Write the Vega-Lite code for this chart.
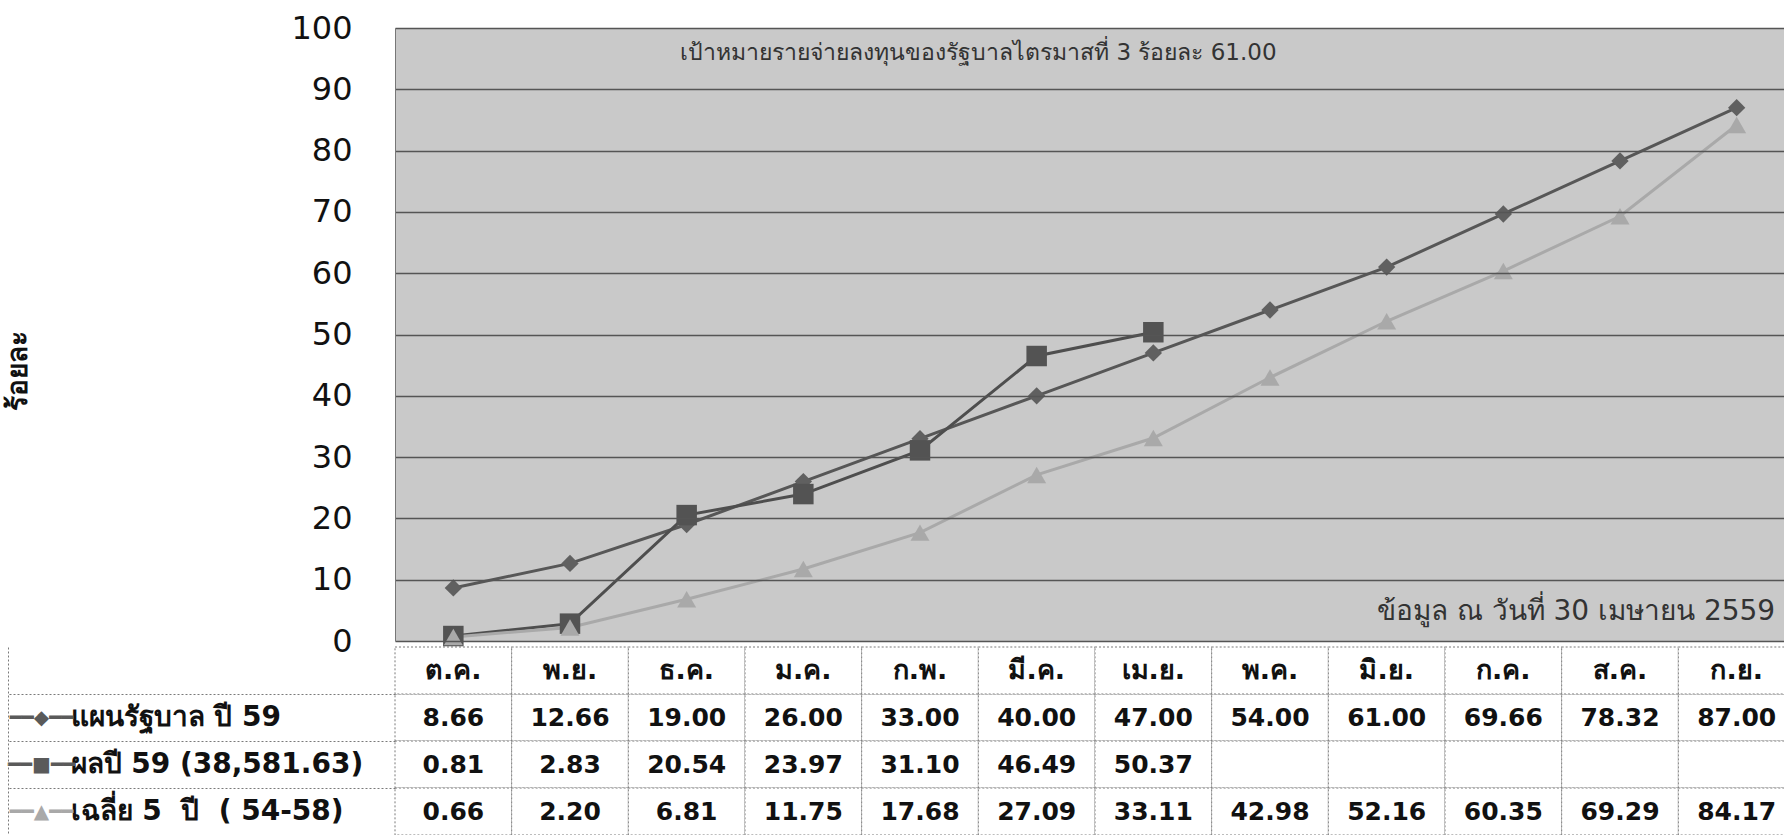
{
  "$schema": "https://vega.github.io/schema/vega-lite/v6.json",
  "width": 1389,
  "height": 807,
  "autosize": {"type": "none"},
  "padding": {"left": 395, "top": 28, "right": 0, "bottom": 0},
  "background": "white",
  "config": {"view": {"stroke": null}, "font": "DejaVu Sans"},
  "data": {"values": [
    {"m": "ต.ค.", "s": "แผนรัฐบาล ปี 59", "v": 8.66},
    {"m": "พ.ย.", "s": "แผนรัฐบาล ปี 59", "v": 12.66},
    {"m": "ธ.ค.", "s": "แผนรัฐบาล ปี 59", "v": 19.00},
    {"m": "ม.ค.", "s": "แผนรัฐบาล ปี 59", "v": 26.00},
    {"m": "ก.พ.", "s": "แผนรัฐบาล ปี 59", "v": 33.00},
    {"m": "มี.ค.", "s": "แผนรัฐบาล ปี 59", "v": 40.00},
    {"m": "เม.ย.", "s": "แผนรัฐบาล ปี 59", "v": 47.00},
    {"m": "พ.ค.", "s": "แผนรัฐบาล ปี 59", "v": 54.00},
    {"m": "มิ.ย.", "s": "แผนรัฐบาล ปี 59", "v": 61.00},
    {"m": "ก.ค.", "s": "แผนรัฐบาล ปี 59", "v": 69.66},
    {"m": "ส.ค.", "s": "แผนรัฐบาล ปี 59", "v": 78.32},
    {"m": "ก.ย.", "s": "แผนรัฐบาล ปี 59", "v": 87.00},
    {"m": "ต.ค.", "s": "ผลปี 59 (38,581.63)", "v": 0.81},
    {"m": "พ.ย.", "s": "ผลปี 59 (38,581.63)", "v": 2.83},
    {"m": "ธ.ค.", "s": "ผลปี 59 (38,581.63)", "v": 20.54},
    {"m": "ม.ค.", "s": "ผลปี 59 (38,581.63)", "v": 23.97},
    {"m": "ก.พ.", "s": "ผลปี 59 (38,581.63)", "v": 31.10},
    {"m": "มี.ค.", "s": "ผลปี 59 (38,581.63)", "v": 46.49},
    {"m": "เม.ย.", "s": "ผลปี 59 (38,581.63)", "v": 50.37},
    {"m": "พ.ค.", "s": "ผลปี 59 (38,581.63)", "v": null},
    {"m": "มิ.ย.", "s": "ผลปี 59 (38,581.63)", "v": null},
    {"m": "ก.ค.", "s": "ผลปี 59 (38,581.63)", "v": null},
    {"m": "ส.ค.", "s": "ผลปี 59 (38,581.63)", "v": null},
    {"m": "ก.ย.", "s": "ผลปี 59 (38,581.63)", "v": null},
    {"m": "ต.ค.", "s": "เฉลี่ย 5  ปี  ( 54-58)", "v": 0.66},
    {"m": "พ.ย.", "s": "เฉลี่ย 5  ปี  ( 54-58)", "v": 2.20},
    {"m": "ธ.ค.", "s": "เฉลี่ย 5  ปี  ( 54-58)", "v": 6.81},
    {"m": "ม.ค.", "s": "เฉลี่ย 5  ปี  ( 54-58)", "v": 11.75},
    {"m": "ก.พ.", "s": "เฉลี่ย 5  ปี  ( 54-58)", "v": 17.68},
    {"m": "มี.ค.", "s": "เฉลี่ย 5  ปี  ( 54-58)", "v": 27.09},
    {"m": "เม.ย.", "s": "เฉลี่ย 5  ปี  ( 54-58)", "v": 33.11},
    {"m": "พ.ค.", "s": "เฉลี่ย 5  ปี  ( 54-58)", "v": 42.98},
    {"m": "มิ.ย.", "s": "เฉลี่ย 5  ปี  ( 54-58)", "v": 52.16},
    {"m": "ก.ค.", "s": "เฉลี่ย 5  ปี  ( 54-58)", "v": 60.35},
    {"m": "ส.ค.", "s": "เฉลี่ย 5  ปี  ( 54-58)", "v": 69.29},
    {"m": "ก.ย.", "s": "เฉลี่ย 5  ปี  ( 54-58)", "v": 84.17}
  ]},
  "layer": [
    {
      "layer": [
        {
          "mark": {"type": "rect", "fill": "white", "stroke": "#7a7a7a", "strokeWidth": 1, "strokeDash": [2, 2]},
          "encoding": {
            "x": {"field": "m", "type": "ordinal", "scale": {"domain": ["ต.ค.", "พ.ย.", "ธ.ค.", "ม.ค.", "ก.พ.", "มี.ค.", "เม.ย.", "พ.ค.", "มิ.ย.", "ก.ค.", "ส.ค.", "ก.ย."], "range": [0, 1400], "paddingInner": 0, "paddingOuter": 0}, "axis": null},
            "y": {"field": "s", "type": "ordinal",
              "scale": {"domain": ["month", "แผนรัฐบาล ปี 59", "ผลปี 59 (38,581.63)", "เฉลี่ย 5  ปี  ( 54-58)"], "range": [619, 807], "paddingInner": 0, "paddingOuter": 0},
              "axis": {"orient": "left", "offset": 0, "title": null, "grid": false, "domain": false,
                "ticks": true, "tickSize": 387, "tickWidth": 1, "tickDash": [2, 2], "bandPosition": 0,
                "tickColor": {"condition": {"test": "datum.value === 'month'", "value": "transparent"}, "value": "#7a7a7a"},
                "labels": true, "labelExpr": "datum.value === 'month' ? '' : replace(replace(datum.value, '  ', '\u00a0\u00a0'), '  ', '\u00a0\u00a0')",
                "labelAlign": "left", "labelBaseline": "middle", "labelPadding": -62,
                "labelFont": "DejaVu Sans", "labelFontWeight": "bold", "labelFontSize": 28, "labelColor": "#111",
                "labelLimit": 600, "labelOverlap": false}}
          }
        },
        {
          "transform": [{"filter": "datum.s === 'แผนรัฐบาล ปี 59'"}],
          "mark": {"type": "rect", "fill": "white", "stroke": "#7a7a7a", "strokeWidth": 1, "strokeDash": [2, 2]},
          "encoding": {
            "x": {"field": "m", "type": "ordinal"},
            "y": {"datum": "month", "type": "ordinal"}
          }
        },
        {
          "transform": [{"filter": "datum.s === 'แผนรัฐบาล ปี 59'"}],
          "mark": {"type": "text", "font": "DejaVu Sans", "fontWeight": "bold", "fontSize": 27, "color": "#111", "align": "center", "baseline": "middle"},
          "encoding": {
            "x": {"field": "m", "type": "ordinal"},
            "y": {"datum": "month", "type": "ordinal"},
            "text": {"field": "m"}
          }
        },
        {
          "transform": [{"filter": "datum.v != null"}],
          "mark": {"type": "text", "font": "DejaVu Sans", "fontWeight": "bold", "fontSize": 25, "color": "#111", "align": "center", "baseline": "middle"},
          "encoding": {
            "x": {"field": "m", "type": "ordinal"},
            "y": {"field": "s", "type": "ordinal"},
            "text": {"field": "v", "type": "quantitative", "format": ".2f"}
          }
        }
      ]
    },
    {
      "mark": {"type": "rect", "opacity": 0},
      "encoding": {
        "x": {"field": "m", "type": "ordinal"},
        "y": {"field": "s", "type": "ordinal",
          "scale": {"domain": ["month", "แผนรัฐบาล ปี 59", "ผลปี 59 (38,581.63)", "เฉลี่ย 5  ปี  ( 54-58)"], "range": [619, 807], "paddingInner": 0, "paddingOuter": 0},
          "axis": {"orient": "left", "offset": 387, "title": null, "grid": false,
            "domain": true, "domainColor": "#7a7a7a", "domainDash": [2, 2], "domainWidth": 1, "ticks": false,
            "labels": true, "labelExpr": "datum.value === 'แผนรัฐบาล ปี 59' ? '━━◆━━' : datum.value === 'ผลปี 59 (38,581.63)' ? '━━■━━' : datum.value === 'month' ? '' : '━━▲━━'",
            "labelAlign": "center", "labelBaseline": "middle", "labelPadding": -33,
            "labelFont": "DejaVu Sans", "labelFontSize": 20, "labelFontWeight": "bold",
            "labelColor": {"condition": {"test": "datum.value === 'เฉลี่ย 5  ปี  ( 54-58)'", "value": "#a9a9a9"}, "value": "#5a5a5a"},
            "labelOverlap": false}}
      }
    },
    {
      "layer": [
        {
          "data": {"values": [{}]},
          "mark": {"type": "rect", "color": "#c9c9c9", "opacity": 1},
          "encoding": {
            "y": {"datum": 0, "type": "quantitative",
              "scale": {"domain": [0, 100], "range": [613, 0], "nice": false, "zero": true},
              "axis": {"orient": "left", "values": [0, 10, 20, 30, 40, 50, 60, 70, 80, 90, 100], "grid": true, "gridColor": "#555", "gridWidth": 1.3,
                "domain": true, "domainColor": "#777", "domainWidth": 1, "ticks": false,
                "labelPadding": 43, "labelFont": "DejaVu Sans", "labelFontSize": 32, "labelColor": "#111",
                "title": "ร้อยละ", "titleFont": "DejaVu Sans", "titleFontSize": 28, "titleFontWeight": "bold", "titleColor": "#111",
                "titleX": -377, "titleY": 342, "titleAngle": -90, "titleAlign": "center", "titleBaseline": "middle", "zindex": 1}},
            "y2": {"datum": 100}
          }
        },
        {
          "data": {"values": [{"label": "เป้าหมายรายจ่ายลงทุนของรัฐบาลไตรมาสที่ 3 ร้อยละ 61.00"}]},
          "mark": {"type": "text", "font": "DejaVu Sans", "fontSize": 23, "color": "#333", "align": "center", "baseline": "middle"},
          "encoding": {
            "x": {"datum": "มี.ค.", "type": "ordinal", "bandPosition": 0},
            "y": {"datum": 96, "type": "quantitative"},
            "text": {"field": "label"}
          }
        },
        {
          "data": {"values": [{"label": "ข้อมูล ณ วันที่ 30 เมษายน 2559"}]},
          "mark": {"type": "text", "font": "DejaVu Sans", "fontSize": 28, "color": "#333", "align": "right", "baseline": "middle"},
          "encoding": {
            "x": {"datum": "ก.ย.", "type": "ordinal", "bandPosition": 0.83},
            "y": {"datum": 4.7, "type": "quantitative"},
            "text": {"field": "label"}
          }
        },
        {
          "transform": [{"filter": "datum.v != null"}],
          "mark": {"type": "line", "strokeWidth": 3},
          "encoding": {
            "x": {"field": "m", "type": "ordinal"},
            "y": {"field": "v", "type": "quantitative"},
            "color": {"field": "s", "type": "nominal", "scale": {"domain": ["แผนรัฐบาล ปี 59", "ผลปี 59 (38,581.63)", "เฉลี่ย 5  ปี  ( 54-58)"], "range": ["#575757", "#4e4e4e", "#a9a9a9"]}, "legend": null}
          }
        },
        {
          "transform": [{"filter": "datum.v != null && datum.s === 'แผนรัฐบาล ปี 59'"}],
          "mark": {"type": "point", "shape": "diamond", "filled": true, "size": 300, "opacity": 1, "color": "#606060"},
          "encoding": {
            "x": {"field": "m", "type": "ordinal"},
            "y": {"field": "v", "type": "quantitative"}
          }
        },
        {
          "transform": [{"filter": "datum.v != null && datum.s === 'ผลปี 59 (38,581.63)'"}],
          "mark": {"type": "point", "shape": "square", "filled": true, "size": 420, "opacity": 1, "color": "#535353"},
          "encoding": {
            "x": {"field": "m", "type": "ordinal"},
            "y": {"field": "v", "type": "quantitative"}
          }
        },
        {
          "transform": [{"filter": "datum.v != null && datum.s === 'เฉลี่ย 5  ปี  ( 54-58)'"}],
          "mark": {"type": "point", "shape": "triangle-up", "filled": true, "size": 360, "opacity": 1, "color": "#a9a9a9"},
          "encoding": {
            "x": {"field": "m", "type": "ordinal"},
            "y": {"field": "v", "type": "quantitative"}
          }
        }
      ]
    }
  ],
  "resolve": {"scale": {"y": "independent"}}
}
